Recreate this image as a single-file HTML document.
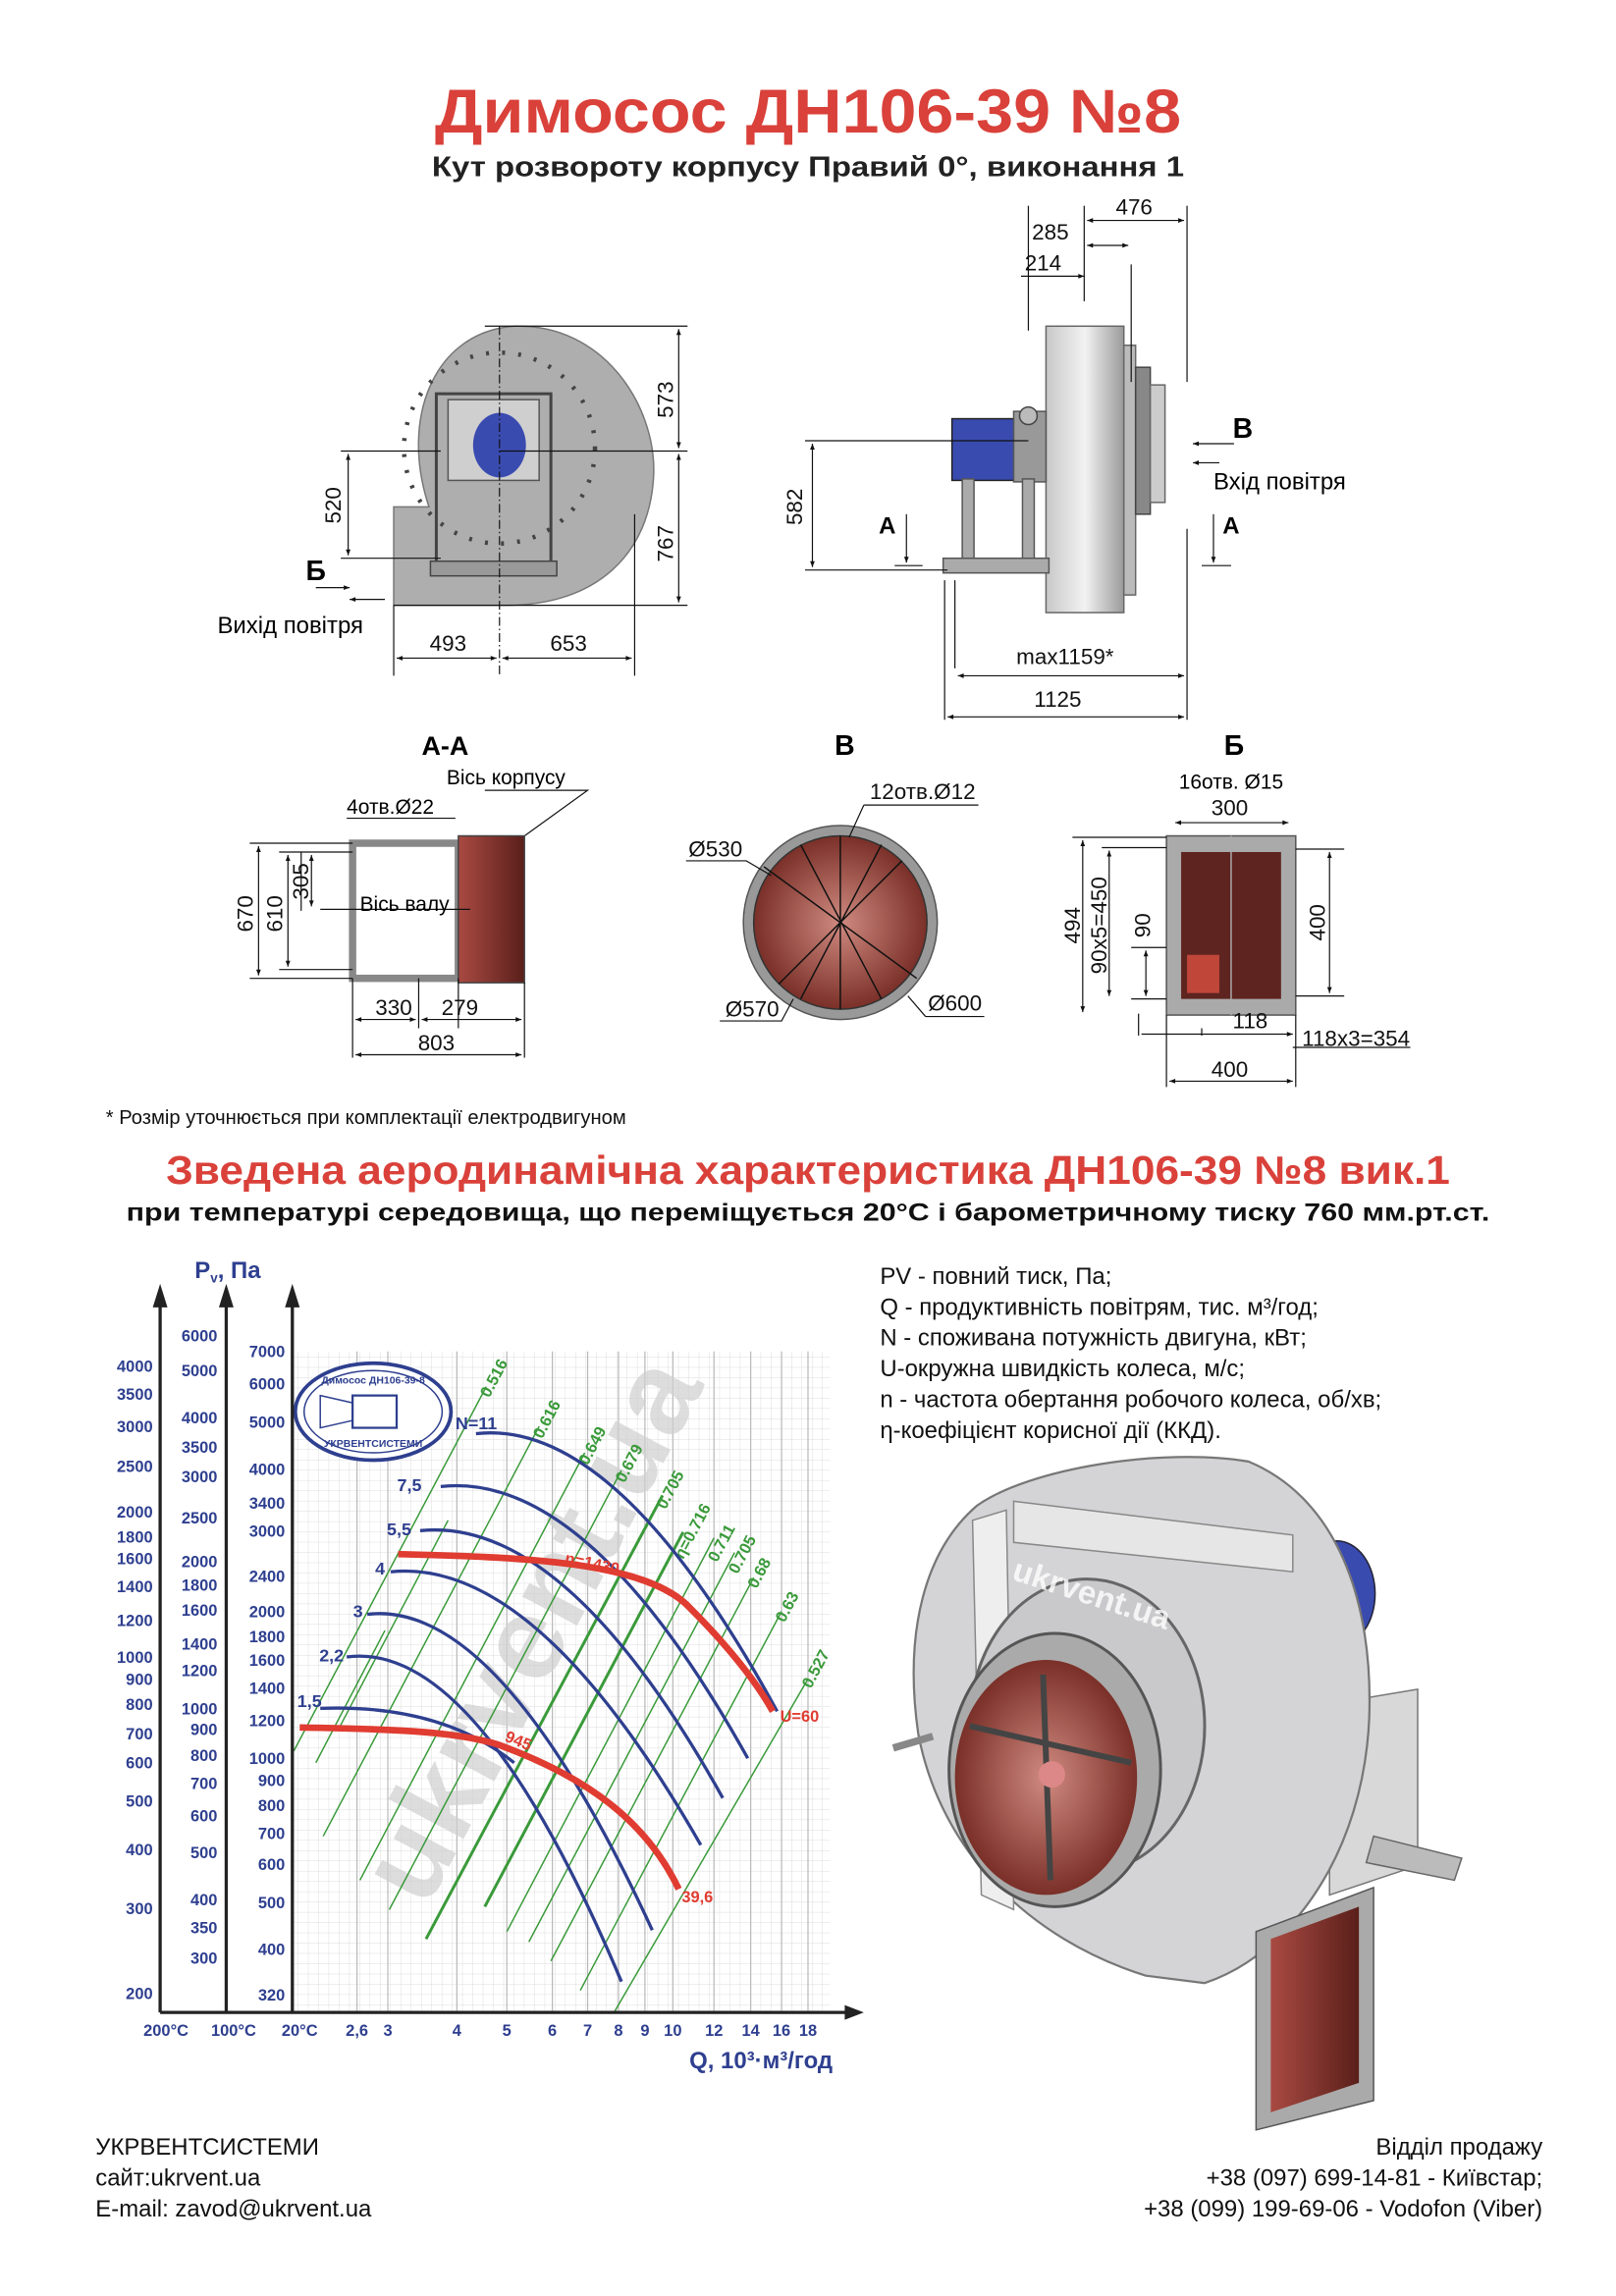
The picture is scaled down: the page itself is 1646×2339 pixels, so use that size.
<!DOCTYPE html>
<html><head><meta charset="utf-8"><style>
html,body{margin:0;padding:0;background:#fff}
svg{display:block}
text{font-family:"Liberation Sans",Arial,sans-serif}
.b{font-weight:bold}
.dim{font-size:15px;fill:#111}
.ax{font-size:11px;font-weight:bold;fill:#2e3f8f;text-anchor:end}
.bx{font-size:11px;font-weight:bold;fill:#2e3f8f;text-anchor:middle}
.g{font-size:11px;font-weight:bold;fill:#3a9a3a}
.dl{stroke:#111;stroke-width:0.8;fill:none}
</style></head><body>
<svg width="1646" height="2339" viewBox="0 0 1100 1563" xmlns="http://www.w3.org/2000/svg">
<defs>
<marker id="ar" viewBox="0 0 10 10" refX="10" refY="5" markerWidth="7" markerHeight="5" orient="auto-start-reverse"><path d="M0,1 L10,5 L0,9 z" fill="#111"/></marker>
<pattern id="grid" width="7" height="7" patternUnits="userSpaceOnUse"><path d="M7,0 V7 M0,7 H7" stroke="#d4d4d4" stroke-width="0.5" fill="none"/></pattern>
<radialGradient id="rg" cx="0.5" cy="0.5" r="0.5"><stop offset="0" stop-color="#d08a80"/><stop offset="1" stop-color="#7a3028"/></radialGradient>
<linearGradient id="lg" x1="0" x2="1"><stop offset="0" stop-color="#c8c8c8"/><stop offset="0.5" stop-color="#f2f2f2"/><stop offset="1" stop-color="#9a9a9a"/></linearGradient>
<linearGradient id="lr" x1="0" x2="1"><stop offset="0" stop-color="#a94a42"/><stop offset="1" stop-color="#5a1f1a"/></linearGradient>
</defs>

<text x="550" y="90" text-anchor="middle" class="b" font-size="42" fill="#d9413a" textLength="508" lengthAdjust="spacingAndGlyphs">Димосос  ДН106-39 №8</text>
<text x="550" y="120" text-anchor="middle" class="b" font-size="19" fill="#222" textLength="512" lengthAdjust="spacingAndGlyphs">Кут розвороту корпусу Правий 0°, виконання 1</text>

<!-- Left view -->
<path d="M268,412 V345 H292 C272,285 295,226 350,222 C410,220 446,275 445,322 C443,378 405,412 345,412 Z" fill="#aeaeae" stroke="#777" stroke-width="1"/>
<circle cx="340" cy="305" r="65" fill="none" stroke="#444" stroke-dasharray="2 9" stroke-width="3"/>
<rect x="297" y="268" width="78" height="122" fill="none" stroke="#444" stroke-width="2"/>
<rect x="305" y="272" width="62" height="55" fill="#cfcfcf" stroke="#555"/>
<ellipse cx="340" cy="303" rx="18" ry="22" fill="#3a4bb0"/>
<rect x="293" y="382" width="86" height="10" fill="#999" stroke="#444"/>
<line x1="340" y1="222" x2="340" y2="460" class="dl" stroke-dasharray="6 2 1 2"/>
<path class="dl" d="M330,222 H468 M340,307 H468 M268,412 H468 M232,307 H300 M232,380 H300 M268,412 V460 M432,350 V460"/>
<line x1="462" y1="224" x2="462" y2="305" class="dl" marker-start="url(#ar)" marker-end="url(#ar)"/>
<line x1="462" y1="309" x2="462" y2="410" class="dl" marker-start="url(#ar)" marker-end="url(#ar)"/>
<line x1="237" y1="309" x2="237" y2="378" class="dl" marker-start="url(#ar)" marker-end="url(#ar)"/>
<line x1="270" y1="448" x2="338" y2="448" class="dl" marker-start="url(#ar)" marker-end="url(#ar)"/>
<line x1="342" y1="448" x2="430" y2="448" class="dl" marker-start="url(#ar)" marker-end="url(#ar)"/>
<text class="dim" transform="translate(458,272) rotate(-90)" text-anchor="middle">573</text>
<text class="dim" transform="translate(458,370) rotate(-90)" text-anchor="middle">767</text>
<text class="dim" transform="translate(232,344) rotate(-90)" text-anchor="middle">520</text>
<text class="dim" x="305" y="443" text-anchor="middle">493</text>
<text class="dim" x="387" y="443" text-anchor="middle">653</text>
<text x="215" y="395" class="b" font-size="19" text-anchor="middle">Б</text>
<line x1="215" y1="400" x2="238" y2="400" class="dl" marker-end="url(#ar)"/>
<line x1="262" y1="408" x2="238" y2="408" class="dl" marker-end="url(#ar)"/>
<text x="148" y="431" font-size="16">Вихід повітря</text>

<!-- Right view -->
<rect x="712" y="222" width="53" height="195" fill="url(#lg)" stroke="#666"/>
<rect x="765" y="235" width="8" height="170" fill="#bbb" stroke="#666"/>
<rect x="773" y="250" width="10" height="100" fill="#888" stroke="#444"/>
<rect x="783" y="262" width="10" height="80" fill="#ccc" stroke="#666"/>
<rect x="648" y="285" width="45" height="42" fill="#3a4bb0" stroke="#222"/>
<rect x="690" y="280" width="22" height="48" fill="#999" stroke="#555"/>
<rect x="655" y="326" width="8" height="56" fill="#aaa" stroke="#555"/>
<rect x="696" y="326" width="8" height="56" fill="#aaa" stroke="#555"/>
<rect x="642" y="380" width="72" height="10" fill="#aaa" stroke="#555"/>
<circle cx="700" cy="283" r="6" fill="#bbb" stroke="#444"/>
<path class="dl" d="M700,140 V225 M738,140 V205 M770,180 V260 M808,140 V260 M548,300 H700 M548,388 H645 M650,395 V455 M643,395 V490 M808,360 V490"/>
<line x1="740" y1="150" x2="806" y2="150" class="dl" marker-start="url(#ar)" marker-end="url(#ar)"/>
<line x1="740" y1="167" x2="768" y2="167" class="dl" marker-start="url(#ar)" marker-end="url(#ar)"/>
<line x1="695" y1="188" x2="738" y2="188" class="dl" marker-end="url(#ar)"/>
<text class="dim" x="772" y="146" text-anchor="middle">476</text>
<text class="dim" x="715" y="163" text-anchor="middle">285</text>
<text class="dim" x="710" y="184" text-anchor="middle">214</text>
<line x1="553" y1="302" x2="553" y2="386" class="dl" marker-start="url(#ar)" marker-end="url(#ar)"/>
<text class="dim" transform="translate(546,345) rotate(-90)" text-anchor="middle">582</text>
<line x1="652" y1="460" x2="806" y2="460" class="dl" marker-start="url(#ar)" marker-end="url(#ar)"/>
<line x1="645" y1="488" x2="806" y2="488" class="dl" marker-start="url(#ar)" marker-end="url(#ar)"/>
<text class="dim" x="725" y="452" text-anchor="middle">max1159*</text>
<text class="dim" x="720" y="481" text-anchor="middle">1125</text>
<text x="604" y="363" class="b" font-size="16" text-anchor="middle">A</text>
<line x1="617" y1="350" x2="617" y2="383" class="dl" marker-end="url(#ar)"/><line x1="609" y1="385" x2="628" y2="385" class="dl"/>
<text x="838" y="363" class="b" font-size="16" text-anchor="middle">A</text>
<line x1="826" y1="350" x2="826" y2="383" class="dl" marker-end="url(#ar)"/><line x1="818" y1="385" x2="838" y2="385" class="dl"/>
<text x="846" y="298" class="b" font-size="19" text-anchor="middle">В</text>
<line x1="840" y1="302" x2="812" y2="302" class="dl" marker-end="url(#ar)"/>
<line x1="830" y1="315" x2="812" y2="315" class="dl" marker-end="url(#ar)"/>
<text x="826" y="333" font-size="16">Вхід повітря</text>

<!-- A-A -->
<text x="303" y="514" class="b" font-size="18" text-anchor="middle">A-A</text>
<text x="304" y="534" font-size="14">Вісь корпусу</text>
<text x="236" y="554" font-size="14">4отв.Ø22</text>
<path class="dl" d="M330,538 H400 L328,590 M236,557 H310"/>
<rect x="240" y="574" width="72" height="92" fill="none" stroke="#888" stroke-width="5"/>
<rect x="312" y="569" width="45" height="100" fill="url(#lr)" stroke="#444"/>
<path class="dl" d="M170,574 H240 M190,580 H240 M205,580 V620 M170,666 H240 M190,660 H240 M240,666 V720 M357,669 V720 M285,666 V700 M312,666 V700 M218,619 H320"/>
<line x1="176" y1="576" x2="176" y2="664" class="dl" marker-start="url(#ar)" marker-end="url(#ar)"/>
<line x1="196" y1="582" x2="196" y2="658" class="dl" marker-start="url(#ar)" marker-end="url(#ar)"/>
<line x1="212" y1="582" x2="212" y2="617" class="dl" marker-start="url(#ar)" marker-end="url(#ar)"/>
<text class="dim" transform="translate(172,622) rotate(-90)" text-anchor="middle">670</text>
<text class="dim" transform="translate(192,622) rotate(-90)" text-anchor="middle">610</text>
<text class="dim" transform="translate(210,600) rotate(-90)" text-anchor="middle">305</text>
<text x="245" y="620" font-size="14">Вісь валу</text>
<line x1="242" y1="694" x2="283" y2="694" class="dl" marker-start="url(#ar)" marker-end="url(#ar)"/>
<line x1="287" y1="694" x2="355" y2="694" class="dl" marker-start="url(#ar)" marker-end="url(#ar)"/>
<line x1="242" y1="718" x2="355" y2="718" class="dl" marker-start="url(#ar)" marker-end="url(#ar)"/>
<text class="dim" x="268" y="691" text-anchor="middle">330</text>
<text class="dim" x="313" y="691" text-anchor="middle">279</text>
<text class="dim" x="297" y="715" text-anchor="middle">803</text>

<!-- B -->
<text x="575" y="514" class="b" font-size="19" text-anchor="middle">В</text>
<circle cx="572" cy="628" r="66" fill="#999" stroke="#555"/>
<circle cx="572" cy="628" r="59" fill="url(#rg)" stroke="#333"/>
<g stroke="#111" stroke-width="1"><line x1="520" y1="590" x2="624" y2="666"/><line x1="530" y1="670" x2="614" y2="586"/><line x1="572" y1="569" x2="572" y2="687"/><line x1="545" y1="575" x2="600" y2="680"/><line x1="600" y1="575" x2="545" y2="680"/></g>
<text class="dim" x="487" y="583" text-anchor="middle">Ø530</text>
<text class="dim" x="628" y="544" text-anchor="middle">12отв.Ø12</text>
<text class="dim" x="512" y="692" text-anchor="middle">Ø570</text>
<text class="dim" x="650" y="688" text-anchor="middle">Ø600</text>
<path class="dl" d="M588,548 H666 M588,548 L578,570 M467,586 H508 L525,596 M490,695 H532 L540,680 M630,692 H670 M630,692 L618,678"/>

<!-- Б -->
<text x="840" y="514" class="b" font-size="19" text-anchor="middle">Б</text>
<text x="838" y="537" font-size="14" text-anchor="middle">16отв. Ø15</text>
<text class="dim" x="837" y="555" text-anchor="middle">300</text>
<rect x="794" y="569" width="88" height="122" fill="#aaa" stroke="#555"/>
<rect x="804" y="580" width="68" height="100" fill="#5e2420"/>
<rect x="808" y="650" width="22" height="26" fill="#c0463a"/>
<line x1="838" y1="569" x2="838" y2="691" stroke="#aaa" stroke-width="1"/>
<line x1="800" y1="560" x2="877" y2="560" class="dl" marker-start="url(#ar)" marker-end="url(#ar)"/>
<path class="dl" d="M730,570 H794 M750,577 H794 M770,645 H794 M770,680 H794 M882,578 H915 M882,678 H915 M794,691 V740 M882,691 V740 M775,690 V705 M818,700 V705 M880,713 H960"/>
<line x1="737" y1="572" x2="737" y2="689" class="dl" marker-start="url(#ar)" marker-end="url(#ar)"/>
<line x1="755" y1="579" x2="755" y2="678" class="dl" marker-start="url(#ar)" marker-end="url(#ar)"/>
<line x1="780" y1="647" x2="780" y2="678" class="dl" marker-start="url(#ar)" marker-end="url(#ar)"/>
<line x1="905" y1="580" x2="905" y2="676" class="dl" marker-start="url(#ar)" marker-end="url(#ar)"/>
<text class="dim" transform="translate(735,630) rotate(-90)" text-anchor="middle">494</text>
<text class="dim" transform="translate(753,630) rotate(-90)" text-anchor="middle">90x5=450</text>
<text class="dim" transform="translate(783,630) rotate(-90)" text-anchor="middle">90</text>
<text class="dim" transform="translate(902,628) rotate(-90)" text-anchor="middle">400</text>
<line x1="777" y1="704" x2="880" y2="704" class="dl" marker-end="url(#ar)"/>
<text class="dim" x="851" y="700" text-anchor="middle">118</text>
<text class="dim" x="923" y="712" text-anchor="middle">118x3=354</text>
<line x1="796" y1="736" x2="880" y2="736" class="dl" marker-start="url(#ar)" marker-end="url(#ar)"/>
<text class="dim" x="837" y="733" text-anchor="middle">400</text>

<text x="72" y="765" font-size="13.5" fill="#111">* Розмір уточнюється при комплектації електродвигуном</text>

<text x="550" y="806" text-anchor="middle" class="b" font-size="27" fill="#d9413a" textLength="874" lengthAdjust="spacingAndGlyphs">Зведена аеродинамічна характеристика ДН106-39 №8 вик.1</text>
<text x="550" y="831" text-anchor="middle" class="b" font-size="17" fill="#111" textLength="928" lengthAdjust="spacingAndGlyphs">при температурі середовища, що переміщується 20°С і барометричному тиску 760 мм.рт.ст.</text>

<!-- Chart -->
<rect x="199" y="920" width="366" height="450" fill="url(#grid)"/>
<g stroke="#b8b8b8" stroke-width="0.8">
<line x1="243" y1="920" x2="243" y2="1370"/><line x1="264" y1="920" x2="264" y2="1370"/><line x1="311" y1="920" x2="311" y2="1370"/><line x1="345" y1="920" x2="345" y2="1370"/><line x1="376" y1="920" x2="376" y2="1370"/><line x1="400" y1="920" x2="400" y2="1370"/><line x1="421" y1="920" x2="421" y2="1370"/><line x1="439" y1="920" x2="439" y2="1370"/><line x1="458" y1="920" x2="458" y2="1370"/><line x1="486" y1="920" x2="486" y2="1370"/><line x1="511" y1="920" x2="511" y2="1370"/><line x1="532" y1="920" x2="532" y2="1370"/><line x1="550" y1="920" x2="550" y2="1370"/>
</g>
<text transform="translate(290,1300) rotate(-62)" font-size="80" class="b" fill="#cfcfcf" opacity="0.7">ukrvent.ua</text>

<g stroke="#3a9a3a" stroke-width="1">
<line x1="331" y1="944" x2="200" y2="1192"/>
<line x1="367" y1="971" x2="220" y2="1250"/>
<line x1="398" y1="989" x2="245" y2="1280"/>
<line x1="423" y1="1001" x2="265" y2="1300"/>
<line x1="451" y1="1018" x2="290" y2="1320" stroke-width="2"/>
<line x1="465" y1="1043" x2="330" y2="1298" stroke-width="2"/>
<line x1="486" y1="1047" x2="345" y2="1315"/>
<line x1="500" y1="1057" x2="360" y2="1322"/>
<line x1="513" y1="1074" x2="375" y2="1335"/>
<line x1="532" y1="1097" x2="395" y2="1355"/>
<line x1="550" y1="1143" x2="418" y2="1370"/>
<line x1="305" y1="1035" x2="230" y2="1178"/>
<line x1="262" y1="1110" x2="215" y2="1200"/>
</g>
<g class="g">
<text transform="translate(333,952) rotate(-62)">0.516</text>
<text transform="translate(369,980) rotate(-62)">0.616</text>
<text transform="translate(400,998) rotate(-62)">0.649</text>
<text transform="translate(425,1010) rotate(-62)">0.679</text>
<text transform="translate(453,1028) rotate(-62)">0.705</text>
<text transform="translate(465,1062) rotate(-62)">η=0.716</text>
<text transform="translate(488,1064) rotate(-62)">0.711</text>
<text transform="translate(502,1072) rotate(-62)">0.705</text>
<text transform="translate(515,1082) rotate(-62)">0.68</text>
<text transform="translate(534,1105) rotate(-62)">0.63</text>
<text transform="translate(552,1150) rotate(-62)">0.527</text>
</g>

<g stroke="#2e3f8f" stroke-width="2.2" fill="none">
<path d="M324,976 Q420,965 529,1165"/>
<path d="M300,1012 Q400,1001 509,1197"/>
<path d="M286,1042 Q385,1032 492,1224"/>
<path d="M266,1070 Q365,1060 477,1256"/>
<path d="M250,1099 Q340,1088 444,1314"/>
<path d="M236,1128 Q325,1116 423,1349"/>
<path d="M218,1163 Q300,1160 350,1200"/>
</g>
<g stroke="#e03c31" stroke-width="4.5" fill="none">
<path d="M271,1058 C350,1060 440,1062 470,1095 C495,1120 515,1145 526,1165"/>
<path d="M204,1176 C260,1177 310,1178 340,1188 C400,1210 440,1240 462,1286"/>
</g>
<g class="b" font-size="11" fill="#e03c31">
<text transform="translate(384,1064) rotate(12)">n=1430</text>
<text transform="translate(343,1185) rotate(22)">945</text>
<text x="531" y="1172">U=60</text>
<text x="464" y="1295">39,6</text>
</g>
<g class="b" font-size="12" fill="#2e3f8f">
<text x="310" y="973">N=11</text><text x="287" y="1015" text-anchor="end">7,5</text><text x="280" y="1045" text-anchor="end">5,5</text>
<text x="262" y="1072" text-anchor="end">4</text><text x="247" y="1101" text-anchor="end">3</text><text x="234" y="1131" text-anchor="end">2,2</text><text x="219" y="1162" text-anchor="end">1,5</text>
</g>
<ellipse cx="254" cy="961" rx="53" ry="33" fill="#fff" stroke="#2e3f8f" stroke-width="2.5"/>
<ellipse cx="254" cy="961" rx="47" ry="28" fill="none" stroke="#2e3f8f" stroke-width="1"/>
<rect x="240" y="950" width="30" height="22" fill="none" stroke="#2e3f8f" stroke-width="1.5"/>
<path d="M218,950 L240,955 L240,967 L218,972 Z" fill="none" stroke="#2e3f8f"/>
<text x="254" y="942" text-anchor="middle" font-size="7" fill="#2e3f8f" class="b">Димосос ДН106-39-8</text>
<text x="254" y="985" text-anchor="middle" font-size="7" fill="#2e3f8f" class="b">УКРВЕНТСИСТЕМИ</text>

<g stroke="#222" stroke-width="2.2">
<line x1="109" y1="885" x2="109" y2="1370"/><line x1="154" y1="885" x2="154" y2="1370"/><line x1="199" y1="885" x2="199" y2="1370"/>
<line x1="109" y1="1370" x2="577" y2="1370"/>
</g>
<path d="M104,890 L109,874 L114,890 Z M149,890 L154,874 L159,890 Z M194,890 L199,874 L204,890 Z M575,1365 L588,1370 L575,1375 Z" fill="#222"/>
<text x="155" y="870" text-anchor="middle" class="b" font-size="16" fill="#2e3f8f">P<tspan font-size="9" dy="3">v</tspan><tspan dy="-3">, Па</tspan></text>
<g class="ax">
<text x="104" y="934">4000</text><text x="104" y="953">3500</text><text x="104" y="975">3000</text><text x="104" y="1002">2500</text><text x="104" y="1033">2000</text><text x="104" y="1050">1800</text><text x="104" y="1065">1600</text><text x="104" y="1084">1400</text><text x="104" y="1107">1200</text><text x="104" y="1132">1000</text><text x="104" y="1147">900</text><text x="104" y="1164">800</text><text x="104" y="1184">700</text><text x="104" y="1204">600</text><text x="104" y="1230">500</text><text x="104" y="1263">400</text><text x="104" y="1303">300</text><text x="104" y="1361">200</text>
</g>
<g class="ax">
<text x="148" y="913">6000</text><text x="148" y="937">5000</text><text x="148" y="969">4000</text><text x="148" y="989">3500</text><text x="148" y="1009">3000</text><text x="148" y="1037">2500</text><text x="148" y="1067">2000</text><text x="148" y="1083">1800</text><text x="148" y="1100">1600</text><text x="148" y="1123">1400</text><text x="148" y="1141">1200</text><text x="148" y="1167">1000</text><text x="148" y="1181">900</text><text x="148" y="1199">800</text><text x="148" y="1218">700</text><text x="148" y="1240">600</text><text x="148" y="1265">500</text><text x="148" y="1297">400</text><text x="148" y="1316">350</text><text x="148" y="1337">300</text>
</g>
<g class="ax">
<text x="194" y="924">7000</text><text x="194" y="946">6000</text><text x="194" y="972">5000</text><text x="194" y="1004">4000</text><text x="194" y="1027">3400</text><text x="194" y="1046">3000</text><text x="194" y="1077">2400</text><text x="194" y="1101">2000</text><text x="194" y="1118">1800</text><text x="194" y="1134">1600</text><text x="194" y="1153">1400</text><text x="194" y="1175">1200</text><text x="194" y="1201">1000</text><text x="194" y="1216">900</text><text x="194" y="1233">800</text><text x="194" y="1252">700</text><text x="194" y="1273">600</text><text x="194" y="1299">500</text><text x="194" y="1331">400</text><text x="194" y="1362">320</text>
</g>
<g class="bx">
<text x="113" y="1386">200°C</text><text x="159" y="1386">100°C</text><text x="204" y="1386">20°C</text><text x="243" y="1386">2,6</text><text x="264" y="1386">3</text><text x="311" y="1386">4</text><text x="345" y="1386">5</text><text x="376" y="1386">6</text><text x="400" y="1386">7</text><text x="421" y="1386">8</text><text x="439" y="1386">9</text><text x="458" y="1386">10</text><text x="486" y="1386">12</text><text x="511" y="1386">14</text><text x="532" y="1386">16</text><text x="550" y="1386">18</text>
</g>
<text x="518" y="1408" text-anchor="middle" class="b" font-size="16" fill="#2e3f8f">Q, 10³·м³/год</text>

<g font-size="16" fill="#111">
<text x="599" y="874">PV - повний тиск, Па;</text>
<text x="599" y="895">Q - продуктивність повітрям, тис. м³/год;</text>
<text x="599" y="916">N - споживана потужність двигуна, кВт;</text>
<text x="599" y="937">U-окружна швидкість колеса, м/с;</text>
<text x="599" y="958">n - частота обертання робочого колеса, об/хв;</text>
<text x="599" y="979">η-коефіцієнт корисної дії (ККД).</text>
</g>

<!-- 3D fan -->
<g>
<path d="M905,1160 L965,1150 L965,1270 L905,1290 Z" fill="#d8d8d8" stroke="#777"/>
<path d="M935,1250 L995,1265 L990,1280 L930,1268 Z" fill="#bbb" stroke="#666"/>
<ellipse cx="910" cy="1085" rx="26" ry="36" fill="#3a4bb0" stroke="#223"/>
<path d="M665,1025 C700,1000 790,985 850,995 C910,1020 935,1090 932,1170 C928,1260 880,1330 820,1350 L780,1345 C700,1320 640,1260 625,1180 C615,1110 630,1055 665,1025 Z" fill="#d4d4d6" stroke="#777" stroke-width="1.5"/>
<path d="M662,1035 L685,1028 L690,1300 L668,1290 Z" fill="#eee" stroke="#888"/>
<path d="M690,1022 L880,1045 L880,1070 L690,1050 Z" fill="#e6e6e6" stroke="#888"/>
<ellipse cx="740" cy="1175" rx="80" ry="100" fill="#c9c9cc" stroke="#666" stroke-width="2"/>
<ellipse cx="718" cy="1205" rx="72" ry="93" fill="#aaa" stroke="#555" stroke-width="2"/>
<ellipse cx="712" cy="1210" rx="62" ry="80" fill="url(#rg)"/>
<path d="M660,1175 L770,1200 M710,1140 L715,1280" stroke="#444" stroke-width="4"/>
<circle cx="716" cy="1208" r="9" fill="#d88"/>
<text transform="translate(688,1075) rotate(18)" class="b" font-size="22" fill="#fff" opacity="0.8">ukrvent.ua</text>
<path d="M855,1315 L935,1285 L935,1430 L855,1450 Z" fill="#aaa" stroke="#555"/>
<path d="M865,1320 L925,1298 L925,1418 L865,1438 Z" fill="url(#lr)"/>
<line x1="608" y1="1190" x2="635" y2="1182" stroke="#888" stroke-width="5"/>
</g>

<g font-size="16" fill="#111">
<text x="65" y="1467">УКРВЕНТСИСТЕМИ</text>
<text x="65" y="1488">сайт:ukrvent.ua</text>
<text x="65" y="1509">E-mail: zavod@ukrvent.ua</text>
<text x="1050" y="1467" text-anchor="end">Відділ продажу</text>
<text x="1050" y="1488" text-anchor="end">+38 (097) 699-14-81 - Київстар;</text>
<text x="1050" y="1509" text-anchor="end">+38 (099) 199-69-06 - Vodofon (Viber)</text>
</g>
</svg>
</body></html>
